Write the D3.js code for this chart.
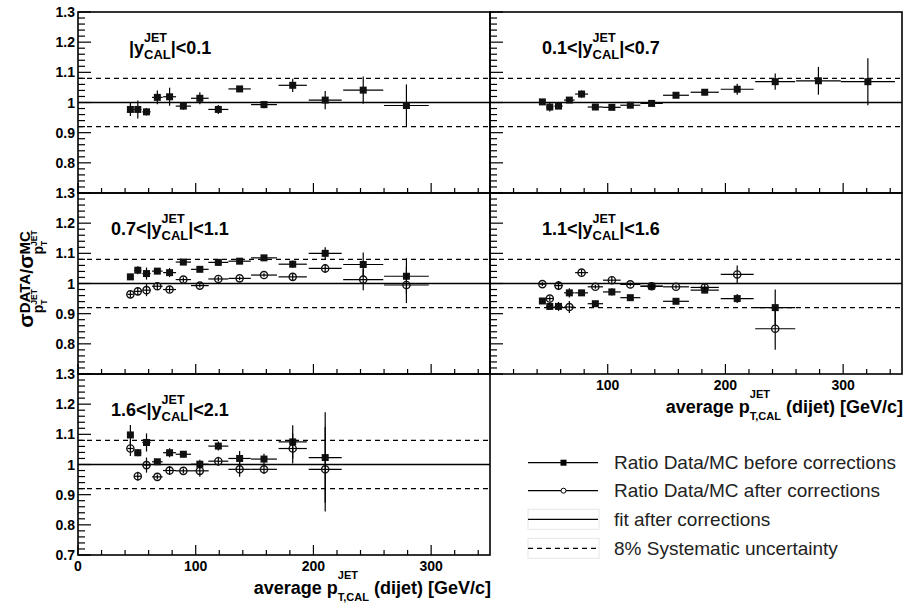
<!DOCTYPE html>
<html lang="en">
<head>
<meta charset="UTF-8">
<title>Data/MC ratio</title>
<style>
  body { margin: 0; background: #fff; }
  svg { font-family: "Liberation Sans", Arial, Helvetica, sans-serif; }
  svg text { white-space: pre; }
</style>
</head>
<body>
<svg id="chart" width="904" height="604"></svg>
<script src="https://d3js.org/d3.v7.min.js"></script>
<script>
// pT bin centres and half widths (GeV/c), shared by all panels
const ptBins = [44.5, 50.8, 58.2, 67.4, 77.8, 89.5, 103.5, 119.2, 137.3, 158.0, 182.4, 210.0, 242.3, 279.0, 321.0];
const ptErr  = [2.5, 3, 3.5, 4.5, 5.5, 6.5, 7.5, 8.5, 9.5, 11, 12, 14, 17, 19, 23];

// rapidity bin edges
const etaLow  = [null, "0.1", "0.7", "1.1", "1.6"];
const etaHigh = ["0.1", "0.7", "1.1", "1.6", "2.1"];

// ratio before corrections (filled squares)
const before0    = [0.977, 0.977, 0.969, 1.017, 1.019, 0.988, 1.014, 0.977, 1.045, 0.993, 1.057, 1.008, 1.041, 0.990];
const before0Err = [0.022, 0.030, 0.012, 0.023, 0.030, 0.012, 0.020, 0.015, 0.008, 0.012, 0.022, 0.030, 0.045, 0.070];
const before1    = [1.002, 0.985, 0.988, 1.008, 1.028, 0.985, 0.984, 0.991, 0.997, 1.024, 1.034, 1.044, 1.069, 1.072, 1.069];
const before1Err = [0.010, 0.015, 0.008, 0.010, 0.012, 0.008, 0.008, 0.008, 0.006, 0.008, 0.010, 0.018, 0.027, 0.046, 0.078];
const before2    = [1.022, 1.044, 1.033, 1.041, 1.036, 1.071, 1.047, 1.070, 1.074, 1.085, 1.064, 1.100, 1.063, 1.024];
const before2Err = [0.010, 0.013, 0.020, 0.010, 0.015, 0.008, 0.008, 0.010, 0.008, 0.006, 0.012, 0.020, 0.040, 0.060];
const before3    = [0.942, 0.924, 0.924, 0.969, 0.969, 0.933, 0.972, 0.953, 0.991, 0.941, 0.978, 0.950, 0.920];
const before3Err = [0.008, 0.010, 0.015, 0.015, 0.010, 0.006, 0.012, 0.006, 0.012, 0.006, 0.010, 0.015, 0.060];
const before4    = [1.098, 1.039, 1.073, 1.009, 1.039, 1.034, 1.001, 1.061, 1.020, 1.018, 1.075, 1.023];
const before4Err = [0.033, 0.012, 0.030, 0.008, 0.015, 0.010, 0.015, 0.015, 0.025, 0.018, 0.055, 0.150];

// ratio after corrections (open circles)
const after2    = [0.964, 0.974, 0.978, 0.991, 0.980, 1.013, 0.993, 1.015, 1.017, 1.028, 1.022, 1.050, 1.013, 0.995];
const after2Err = [0.010, 0.013, 0.020, 0.010, 0.010, 0.008, 0.006, 0.008, 0.006, 0.006, 0.010, 0.015, 0.035, 0.060];
const after3    = [0.998, 0.950, 0.993, 0.922, 1.036, 0.989, 1.011, 0.997, 0.991, 0.989, 0.987, 1.030, 0.850];
const after3Err = [0.006, 0.008, 0.015, 0.020, 0.010, 0.006, 0.012, 0.006, 0.012, 0.006, 0.012, 0.030, 0.070];
const after4    = [1.053, 0.961, 0.998, 0.959, 0.980, 0.979, 0.979, 1.011, 0.984, 0.984, 1.053, 0.984];
const after4Err = [0.025, 0.015, 0.025, 0.008, 0.015, 0.008, 0.020, 0.015, 0.025, 0.015, 0.050, 0.140];

const fitValue = 1.0;
const systBand = 0.08;

const yTicks = [0.7, 0.8, 0.9, 1.0, 1.1, 1.2, 1.3];
const xTicks = [0, 100, 200, 300];

const legendLabels = [
  "Ratio Data/MC before corrections",
  "Ratio Data/MC after corrections",
  "fit after corrections",
  "8% Systematic uncertainty"
];

// panels: col, row, data
const panels = [
  { col: 0, row: 0, before: before0, beforeErr: before0Err },
  { col: 1, row: 0, before: before1, beforeErr: before1Err },
  { col: 0, row: 1, before: before2, beforeErr: before2Err, after: after2, afterErr: after2Err },
  { col: 1, row: 1, before: before3, beforeErr: before3Err, after: after3, afterErr: after3Err, xlabels: true },
  { col: 0, row: 2, before: before4, beforeErr: before4Err, after: after4, afterErr: after4Err, xlabels: true }
];

const colX = [78, 490];
const panelW = 412;
const rowY = [12, 193, 374];
const panelH = 181;

const svg = d3.select("#chart");

// draw text made of runs; {stack:[a,b]} puts runs a and b at the same x
function rich(g, parts, x, y) {
  let cx = x;
  for (const p of parts) {
    if (p.stack) {
      let w = 0;
      for (const s of p.stack) w = Math.max(w, rich(g, s, cx, y) - cx);
      cx += w;
    } else {
      const t = g.append("text")
        .attr("x", cx).attr("y", y + (p.dy || 0))
        .attr("font-size", p.size)
        .text(p.t);
      cx += t.node().getComputedTextLength();
    }
  }
  return cx;
}

function xTitle(x, y) {
  const g = svg.append("g").attr("font-weight", "bold");
  const w = rich(g, [
    { t: "average p", size: 18 },
    { stack: [[{ t: "JET", size: 11, dy: -15 }], [{ t: "T,CAL", size: 11, dy: 7 }]] },
    { t: " (dijet) [GeV/c]", size: 18 }
  ], 0, 0);
  g.attr("transform", `translate(${x - w},${y})`);
}

panels.forEach((p, k) => {
  const x0 = colX[p.col], y0 = rowY[p.row];
  const x = d3.scaleLinear([0, 350], [x0, x0 + panelW]);
  const y = d3.scaleLinear([0.7, 1.3], [y0 + panelH, y0]);
  const g = svg.append("g");

  // reference lines
  g.append("line")
    .attr("x1", x(0)).attr("x2", x(350))
    .attr("y1", y(fitValue)).attr("y2", y(fitValue))
    .attr("stroke", "#000").attr("stroke-width", 1.3);
  [fitValue + systBand, fitValue - systBand].forEach(v => {
    g.append("line")
      .attr("x1", x(0)).attr("x2", x(350))
      .attr("y1", y(v)).attr("y2", y(v))
      .attr("stroke", "#000").attr("stroke-width", 1.3)
      .attr("stroke-dasharray", "5,4");
  });

  // ticks: y on the left, x at the bottom, both pointing inward
  const yMinor = d3.range(0.7, 1.3001, 0.02);
  g.selectAll(".ytick").data(yMinor).join("line")
    .attr("x1", x(0))
    .attr("x2", d => x(0) + (Math.abs(Math.round(d * 10) - d * 10) < 1e-6 ? 13 : 7))
    .attr("y1", d => y(d)).attr("y2", d => y(d))
    .attr("stroke", "#000").attr("stroke-width", 1.2);
  const xMinor = d3.range(0, 351, 20);
  g.selectAll(".xtick").data(xMinor).join("line")
    .attr("x1", d => x(d)).attr("x2", d => x(d))
    .attr("y1", y(0.7))
    .attr("y2", d => y(0.7) - (d % 100 === 0 ? 10 : 5))
    .attr("stroke", "#000").attr("stroke-width", 1.2);

  // frame
  g.append("rect")
    .attr("x", x(0)).attr("y", y(1.3))
    .attr("width", x(350) - x(0)).attr("height", y(0.7) - y(1.3))
    .attr("fill", "none").attr("stroke", "#000").attr("stroke-width", 1.6);

  // y labels (left column only)
  if (p.col === 0) {
    const labs = yTicks.filter(v => v > 0.75 || p.row === 2);
    g.selectAll(".ylab").data(labs).join("text")
      .attr("x", x0 - 3).attr("y", d => y(d) + 5)
      .attr("text-anchor", "end")
      .attr("font-size", 14).attr("font-weight", "bold")
      .text(d => d3.format("~g")(d));
  }
  if (p.xlabels) {
    g.selectAll(".xlab").data(p.col === 0 ? xTicks : xTicks.slice(1)).join("text")
      .attr("x", d => x(d)).attr("y", y(0.7) + 16)
      .attr("text-anchor", "middle")
      .attr("font-size", 14).attr("font-weight", "bold")
      .text(d => d);
    xTitle(x(350) + 1, y(0.7) + 39);
  }

  // panel label |y_CAL^JET| range
  const lg = g.append("g").attr("font-weight", "bold");
  const lab = [];
  if (etaLow[k]) lab.push({ t: etaLow[k] + "<", size: 18 });
  lab.push({ t: "|y", size: 18 });
  lab.push({ stack: [[{ t: "JET", size: 12.5, dy: -12 }], [{ t: "CAL", size: 13, dy: 5 }]] });
  lab.push({ t: "|<" + etaHigh[k], size: 18 });
  rich(lg, lab, p.col === 0 ? (etaLow[k] ? 111 : 129) : x0 + 52, y0 + 42);

  // series
  const series = [{ v: p.before, e: p.beforeErr, type: "sq" }];
  if (p.after) series.push({ v: p.after, e: p.afterErr, type: "circ" });
  series.forEach(s => {
    const pts = s.v.map((v, i) => ({ px: ptBins[i], pe: ptErr[i], v, e: s.e[i] }));
    g.append("g").selectAll("line").data(pts).join("line")
      .attr("x1", d => x(d.px - d.pe)).attr("x2", d => x(d.px + d.pe))
      .attr("y1", d => y(d.v)).attr("y2", d => y(d.v))
      .attr("stroke", "#000").attr("stroke-width", 1.2);
    g.append("g").selectAll("line").data(pts).join("line")
      .attr("x1", d => x(d.px)).attr("x2", d => x(d.px))
      .attr("y1", d => y(d.v - d.e)).attr("y2", d => y(d.v + d.e))
      .attr("stroke", "#000").attr("stroke-width", 1.2);
    if (s.type === "sq") {
      g.append("g").selectAll("rect").data(pts).join("rect")
        .attr("x", d => x(d.px) - 3.5).attr("y", d => y(d.v) - 3.5)
        .attr("width", 7).attr("height", 7)
        .attr("fill", "#111");
    } else {
      g.append("g").selectAll("circle").data(pts).join("circle")
        .attr("cx", d => x(d.px)).attr("cy", d => y(d.v)).attr("r", 3.6)
        .attr("fill", "none").attr("stroke", "#111").attr("stroke-width", 1.4);
    }
  });
});

// y axis title
{
  const g = svg.append("g").attr("font-weight", "bold");
  const sub = [{ t: "p", size: 14, dy: 10 }, { stack: [[{ t: "JET", size: 8.5, dy: 4 }], [{ t: "T", size: 8.5, dy: 14 }]] }];
  const w = rich(g, [
    { t: "σ", size: 21 },
    { stack: [[{ t: "DATA", size: 15, dy: -3 }], sub] },
    { t: "/", size: 18 },
    { t: "σ", size: 21 },
    { stack: [[{ t: "MC", size: 15, dy: -3 }], sub] }
  ], 0, 0);
  g.attr("transform", `translate(33,${279 + w / 2}) rotate(-90)`);
}

// legend
const legY = [462.7, 490.7, 519.3, 548.3];
const leg = svg.append("g");
legendLabels.forEach((txt, i) => {
  const yy = legY[i];
  if (i >= 2) {
    leg.append("rect").attr("x", 528).attr("y", yy - 10).attr("width", 71).attr("height", 20)
      .attr("fill", "none").attr("stroke", "#e6e6e6");
  }
  leg.append("line").attr("x1", 528).attr("x2", 598).attr("y1", yy).attr("y2", yy)
    .attr("stroke", "#000").attr("stroke-width", 1.3)
    .attr("stroke-dasharray", i === 3 ? "5,4" : null);
  if (i === 0) leg.append("rect").attr("x", 560.5).attr("y", yy - 3).attr("width", 6).attr("height", 6).attr("fill", "#000");
  if (i === 1) leg.append("circle").attr("cx", 563.5).attr("cy", yy).attr("r", 2.5).attr("fill", "#fff").attr("stroke", "#000");
  leg.append("text").attr("x", 614).attr("y", yy + 6.5)
    .attr("font-size", 19).attr("fill", "#222").text(txt);
});
</script>
</body>
</html>
